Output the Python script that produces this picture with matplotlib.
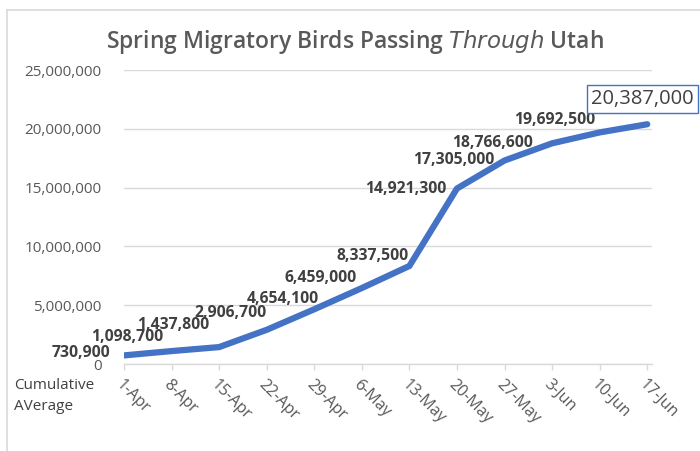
import matplotlib.pyplot as plt
from matplotlib.lines import Line2D
from matplotlib.ticker import FuncFormatter

plt.rcParams['font.family'] = ['Open Sans', 'DejaVu Sans']

dates = ['1-Apr', '8-Apr', '15-Apr', '22-Apr', '29-Apr', '6-May', '13-May',
         '20-May', '27-May', '3-Jun', '10-Jun', '17-Jun']
birds = [730900, 1098700, 1437800, 2906700, 4654100, 6459000, 8337500,
         14921300, 17305000, 18766600, 19692500, 20387000]

# label offsets in pixels relative to each point
label_offsets = [(-14, 2), (-44, 14), (-46, 22), (-36, 17), (-31, 10), (-41, 10),
                 (-37, 10), (-51, 0), (-51, 0), (-60, 0), (-45, 12), (-5, 25)]

blue = '#4472C4'
grid_gray = '#D9D9D9'
tick_gray = '#595959'
label_gray = '#404040'

fig = plt.figure(figsize=(7, 4.51), dpi=100)
ax = fig.add_axes([124 / 700, 1 - 364 / 451, 528 / 700, 294 / 451])

x = list(range(len(dates)))
ax.plot(x, birds, color=blue, lw=4.5, solid_capstyle='round', solid_joinstyle='round', zorder=3)

ax.set_xlim(0, 11.1)
ax.set_ylim(0, 25000000)
ax.set_yticks(range(0, 25000001, 5000000))
ax.yaxis.set_major_formatter(FuncFormatter(lambda v, p: f'{int(v):,}'))
ax.grid(axis='y', color=grid_gray, lw=1)
ax.set_axisbelow(True)
for s in ['top', 'right', 'left']:
  ax.spines[s].set_visible(False)
ax.spines['bottom'].set_color(grid_gray)
ax.spines['bottom'].set_linewidth(1)
ax.tick_params(axis='y', length=0, pad=16, labelsize=11, labelcolor=tick_gray)
ax.tick_params(axis='x', length=4, color=grid_gray, width=1, pad=5, labelsize=11.5, labelcolor=tick_gray)
ax.set_xticks(x)
ax.set_xticklabels(dates, rotation=-45, ha='left', va='top', rotation_mode='anchor')

for i, val in enumerate(birds):
  dx, dy = label_offsets[i]
  if i == len(birds) - 1:
    ax.annotate(f'{val:,}', (i, val), xytext=(dx, dy), textcoords='offset pixels',
                ha='center', va='center', fontsize=14.5, color=label_gray,
                bbox=dict(boxstyle='square,pad=0.2', fc='white', ec=blue, lw=1),
                annotation_clip=False, zorder=5)
  else:
    ha = 'right' if i == 0 else 'center'
    ax.annotate(f'{val:,}', (i, val), xytext=(dx, dy), textcoords='offset pixels',
                ha=ha, va='center', fontsize=11.3, fontweight='bold', color=label_gray,
                zorder=4)

fig.text(355 / 700, 1 - 42 / 451, 'Spring Migratory Birds Passing $\\it{Through}$ Utah',
         ha='center', va='center', fontsize=16.5, fontweight='semibold', color=tick_gray)
fig.text(14 / 700, 1 - 396 / 451, 'Cumulative\nAVerage', ha='left', va='center',
         fontsize=11, color=label_gray, linespacing=1.5)

# chart area border (top and left edges visible)
fig.add_artist(Line2D([7 / 700, 7 / 700], [0, 1 - 10 / 451], color=grid_gray, lw=1.2))
fig.add_artist(Line2D([7 / 700, 1], [1 - 10 / 451, 1 - 10 / 451], color=grid_gray, lw=1.2))

plt.savefig('out.png', dpi=100)
